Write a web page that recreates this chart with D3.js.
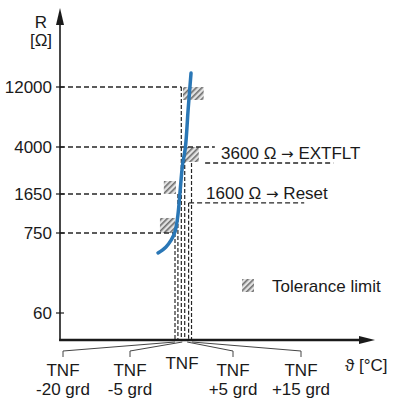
<!DOCTYPE html>
<html>
<head>
<meta charset="utf-8">
<script src="https://cdn.jsdelivr.net/npm/d3@7"></script>
<style>
  body { margin: 0; background: #fff; }
  text { font-family: "Liberation Sans", Arial, sans-serif; font-size: 17px; fill: #1a1a1a; }
  .arrow { font-family: "DejaVu Sans", sans-serif; font-size: 15px; }
</style>
</head>
<body>
<script>
// resistance ticks on the R axis
const resistTicks = [60, 750, 1650, 4000, 12000];
// PTC curve, temperature offset vs TNF (deg) and resistance (ohm)
const curveTemp = [-55, -39, -28, -20, -14, -10, -4.5, 1.5, 7, 13];
const curveR = [400, 480, 600, 770, 1080, 1650, 2850, 4000, 7900, 15500];
// temperature ticks (relative to TNF) and their labels
const tempTicks = [-20, -5, 0, 5, 15];
const tempLabels = [["TNF", "-20 grd"], ["TNF", "-5 grd"], ["TNF"], ["TNF", "+5 grd"], ["TNF", "+15 grd"]];
// vertical guide lines: temperature and top resistance
const guideTemp = [-20, -14, -7, 0, 8, 14];
const guideTopR = [750, 1650, 12000, 4000, 1380, 2960];
// horizontal guide lines from the R axis
const refLineR = [12000, 4000, 1650, 750];
const refLineEndTemp = [-7, 62, -43, -20];
// tolerance limit boxes
const tolTemp0 = [-51, -43, 0, -3.5];
const tolTemp1 = [-20, -18, 29, 39];
const tolR0 = [750, 1650, 3015, 9460];
const tolR1 = [1016, 2108, 4000, 12000];
// switching thresholds
const annotValue = ["3600 \u03A9", "1600 \u03A9"];
const annotAction = ["EXTFLT", "Reset"];
const annotR = [2960, 1380];
const annotStartTemp = [42, 9];
const annotEndTemp = [306, 246];

const width = 396, height = 404;
const axisX = 60, axisY = 340;

const svg = d3.select("body").append("svg")
    .attr("width", width)
    .attr("height", height);

const x = d3.scaleLinear().domain([-20, 15]).range([175, 192]);
const y = d3.scaleLog().domain(resistTicks).range([313, 233, 194, 147, 87]);
// spreads the crowded TNF ticks out to their labels
const fan = d3.scaleLinear().domain(tempTicks).range([63, 130, 182, 233, 301]);

const pattern = svg.append("defs").append("pattern")
    .attr("id", "hatch")
    .attr("patternUnits", "userSpaceOnUse")
    .attr("width", 4).attr("height", 4)
    .attr("patternTransform", "rotate(45)");
pattern.append("rect").attr("width", 4).attr("height", 4).attr("fill", "#e2e2e2");
pattern.append("rect").attr("width", 1.6).attr("height", 4).attr("fill", "#6e6e6e");

const dash = "5,3";
const dashColor = "#262626";

// tolerance boxes
svg.selectAll("rect.tol")
    .data(tolTemp0.map((t, i) => ({t0: t, t1: tolTemp1[i], r0: tolR0[i], r1: tolR1[i]})))
    .join("rect")
    .attr("class", "tol")
    .attr("x", d => x(d.t0))
    .attr("y", d => y(d.r1))
    .attr("width", d => x(d.t1) - x(d.t0))
    .attr("height", d => y(d.r0) - y(d.r1))
    .attr("fill", "url(#hatch)");

// horizontal dashed lines
svg.selectAll("line.ref")
    .data(refLineR)
    .join("line")
    .attr("x1", axisX)
    .attr("x2", (d, i) => x(refLineEndTemp[i]))
    .attr("y1", d => y(d))
    .attr("y2", d => y(d))
    .attr("stroke", dashColor)
    .attr("stroke-width", 1.3)
    .attr("stroke-dasharray", dash);

// vertical dashed lines
svg.selectAll("line.guide")
    .data(guideTemp)
    .join("line")
    .attr("x1", d => x(d))
    .attr("x2", d => x(d))
    .attr("y1", (d, i) => y(guideTopR[i]))
    .attr("y2", axisY)
    .attr("stroke", dashColor)
    .attr("stroke-width", 1.2)
    .attr("stroke-dasharray", "4,2");

// threshold annotations
annotValue.forEach((val, i) => {
    svg.append("line")
        .attr("x1", x(annotStartTemp[i]))
        .attr("x2", x(annotEndTemp[i]))
        .attr("y1", y(annotR[i]))
        .attr("y2", y(annotR[i]))
        .attr("stroke", dashColor)
        .attr("stroke-width", 1.3)
        .attr("stroke-dasharray", dash);
    const t = svg.append("text")
        .attr("x", x(annotStartTemp[i]) + (i == 0 ? 16 : 17))
        .attr("y", y(annotR[i]) - 4);
    t.append("tspan").text(val + " ");
    t.append("tspan").attr("class", "arrow").text("\u2192");
    t.append("tspan").text(" " + annotAction[i]);
});

// curve
const line = d3.line()
    .x(d => x(d[0]))
    .y(d => y(d[1]))
    .curve(d3.curveCatmullRom);
svg.append("path")
    .datum(curveTemp.map((t, i) => [t, curveR[i]]))
    .attr("d", line)
    .attr("fill", "none")
    .attr("stroke", "#2a77b6")
    .attr("stroke-width", 3.5)
    .attr("stroke-linecap", "round");

// axes
svg.append("line")
    .attr("x1", axisX).attr("x2", axisX)
    .attr("y1", 20).attr("y2", axisY + 1)
    .attr("stroke", "#1a1a1a").attr("stroke-width", 1.6);
svg.append("path")
    .attr("d", `M${axisX},8 L${axisX - 4},25 L${axisX + 4},25 Z`)
    .attr("fill", "#1a1a1a");
svg.append("line")
    .attr("x1", axisX - 0.8).attr("x2", 362)
    .attr("y1", axisY).attr("y2", axisY)
    .attr("stroke", "#1a1a1a").attr("stroke-width", 2.5);
svg.append("path")
    .attr("d", `M375,${axisY} L359,${axisY - 4} L359,${axisY + 4} Z`)
    .attr("fill", "#1a1a1a");

// R ticks
svg.selectAll("line.ytick")
    .data(resistTicks)
    .join("line")
    .attr("x1", axisX - 4).attr("x2", axisX + 4)
    .attr("y1", d => y(d)).attr("y2", d => y(d))
    .attr("stroke", "#1a1a1a").attr("stroke-width", 1.2);
svg.selectAll("text.ylab")
    .data(resistTicks)
    .join("text")
    .attr("x", axisX - 8)
    .attr("y", d => y(d))
    .attr("dy", "0.35em")
    .attr("text-anchor", "end")
    .text(d => d);

svg.append("text").attr("x", 41).attr("y", 28).attr("text-anchor", "middle").text("R");
svg.append("text").attr("x", 41).attr("y", 46).attr("text-anchor", "middle").text("[\u03A9]");

// temperature ticks with brackets
tempTicks.forEach((t, i) => {
    const lines = tempLabels[i];
    if (t !== 0) {
        svg.append("path")
            .attr("d", `M${x(t)},${axisY + 2} L${fan(t)},351 L${fan(t)},357`)
            .attr("fill", "none")
            .attr("stroke", "#444")
            .attr("stroke-width", 1);
    }
    const txt = svg.append("text")
        .attr("x", fan(t))
        .attr("y", lines.length > 1 ? 376 : 369)
        .attr("text-anchor", "middle");
    lines.forEach((l, j) => {
        txt.append("tspan").attr("x", fan(t)).attr("dy", j ? 19 : 0).text(l);
    });
});

svg.append("text").attr("x", 345).attr("y", 371).text("\u03D1 [\u00B0C]");

// legend
svg.append("rect")
    .attr("x", 242).attr("y", 279)
    .attr("width", 12).attr("height", 13)
    .attr("fill", "url(#hatch)");
svg.append("text").attr("x", 272).attr("y", 292).text("Tolerance limit");
</script>
</body>
</html>
